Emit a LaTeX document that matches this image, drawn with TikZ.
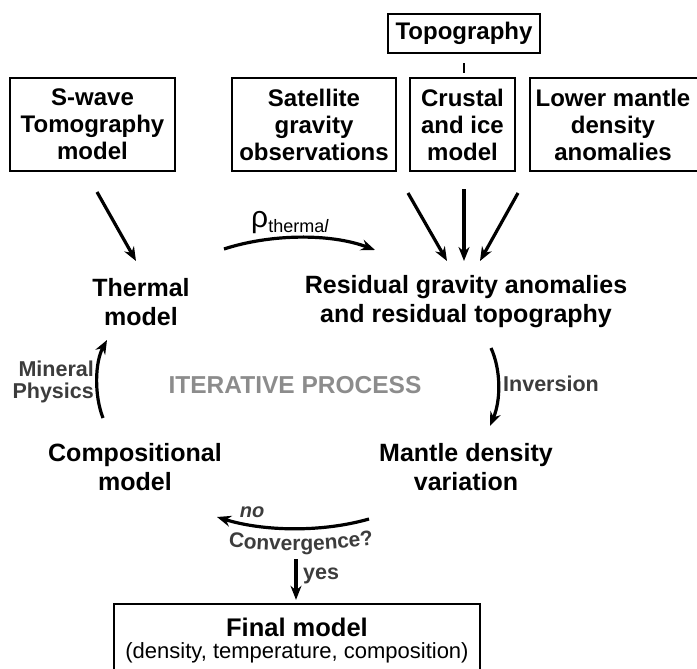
\documentclass[tikz,border=0pt]{standalone}
\usepackage{fontspec}
\setmainfont{Liberation Sans}
\usetikzlibrary{arrows.meta,decorations.text}
\definecolor{darkgr}{HTML}{3C3C3C}
\definecolor{lightgr}{HTML}{8C8C8C}
\tikzset{
  boxnode/.style={draw, line width=2.4pt, inner sep=0pt, align=center,
    font=\bfseries\fontsize{24}{27}\selectfont},
  plain/.style={align=center, inner sep=0pt, font=\bfseries\fontsize{25}{29}\selectfont},
  lab/.style={inner sep=0pt, text=darkgr, font=\bfseries\fontsize{21.5}{22}\selectfont},
  arr/.style={line width=3.2pt, -{Stealth[length=14pt,width=11pt]}},
}
\begin{document}
\begin{tikzpicture}[x=1pt,y=-1pt]
\useasboundingbox (0,0) rectangle (697,669);
\clip (0,0) rectangle (697,669);

% top boxes
\node[boxnode, minimum width=152, minimum height=39] (topo) at (464,33.5) {Topography};
\node[boxnode, minimum width=165, minimum height=93] (swave) at (92.5,124.5) {S-wave\\Tomography\\model};
\node[boxnode, minimum width=164, minimum height=93] (sat) at (314,124.5) {Satellite\\gravity\\observations};
\node[boxnode, minimum width=105, minimum height=93] (crust) at (462.5,124.5) {Crustal\\and ice\\model};
\node[boxnode, draw=none, minimum height=93] (lower) at (613,124.5) {Lower mantle\\density\\anomalies};
\draw[line width=2.4pt] (530,78) rectangle (720,171);

\draw[line width=2.6pt, shorten <=9pt, shorten >=4pt] (topo.south) -- (topo.south |- crust.north);

% middle texts
\node[plain] (thermal) at (141,302) {Thermal\\model};
\node[plain] (resid) at (466,302) {Residual gravity anomalies\\and residual topography};
\node[plain] (comp) at (135,467) {Compositional\\model};
\node[plain] (mantle) at (466,467) {Mantle density\\variation};
\node[inner sep=0pt, text=lightgr, font=\bfseries\fontsize{24.5}{24}\selectfont] (iter) at (295,385) {ITERATIVE PROCESS};

% arrow end points
\coordinate (s1) at (97,192);   \coordinate (e1) at (136,261);
\coordinate (s2) at (408,193);  \coordinate (e2) at (447,261);
\coordinate (s3) at (464,189);  \coordinate (e3) at (464,261);
\coordinate (s4) at (518,193);  \coordinate (e4) at (480,261);
\draw[arr] (s1) -- (e1);
\draw[arr] (s2) -- (e2);
\draw[arr] (s3) -- (e3);
\draw[arr] (s4) -- (e4);

% rho thermal
\coordinate (r1) at (224,249); \coordinate (r2) at (375,250);
\draw[arr] (r1) .. controls (270,234) and (330,233) .. (r2);
\node[inner sep=0pt, anchor=base west] (rho) at (251,227)
  {{\fontsize{30}{30}\selectfont ρ}{\fontsize{18}{18}\selectfont\raisebox{-5pt}{therma\textit{l}}}};

% mineral physics
\coordinate (m1) at (103,418); \coordinate (m2) at (107,340);
\draw[arr] (m1) .. controls (94,395) and (95,362) .. (m2);
\node[lab, align=right, anchor=east] (mineral) at (94,382) {Mineral\\Physics};

% inversion
\coordinate (i1) at (491,348); \coordinate (i2) at (490,426);
\draw[arr] (i1) .. controls (501,370) and (501,400) .. (i2);
\node[lab, anchor=west] (inv) at (503,384) {Inversion};

% convergence no
\coordinate (n1) at (369,519); \coordinate (n2) at (217,517);
\draw[arr] (n1) .. controls (320,533) and (262,531) .. (n2);
\node[lab, font=\bfseries\itshape\fontsize{20}{20}\selectfont] (no) at (252,512) {no};
\path[decorate, decoration={text along path, text align=center,
   text={|\bfseries\fontsize{21}{21}\selectfont\color{darkgr}|Convergence?}}]
   (218,545) .. controls (270,553) and (335,552) .. (384,543);

% final
\coordinate (y1) at (296,559);
\node[draw, line width=2.4pt, minimum width=366, minimum height=90, inner sep=0pt] (final) at (297,649) {};
\node[inner sep=0pt, font=\bfseries\fontsize{25.5}{25}\selectfont] (finalt) at (297,627) {Final model};
\node[inner sep=0pt, font=\fontsize{22}{22}\selectfont] (finals) at (297,653) {(density, temperature, composition)};
\draw[arr, shorten >=3pt] (y1) -- (y1 |- final.north);
\node[lab, anchor=west] (yes) at (303,576) {yes};
\end{tikzpicture}
\end{document}
